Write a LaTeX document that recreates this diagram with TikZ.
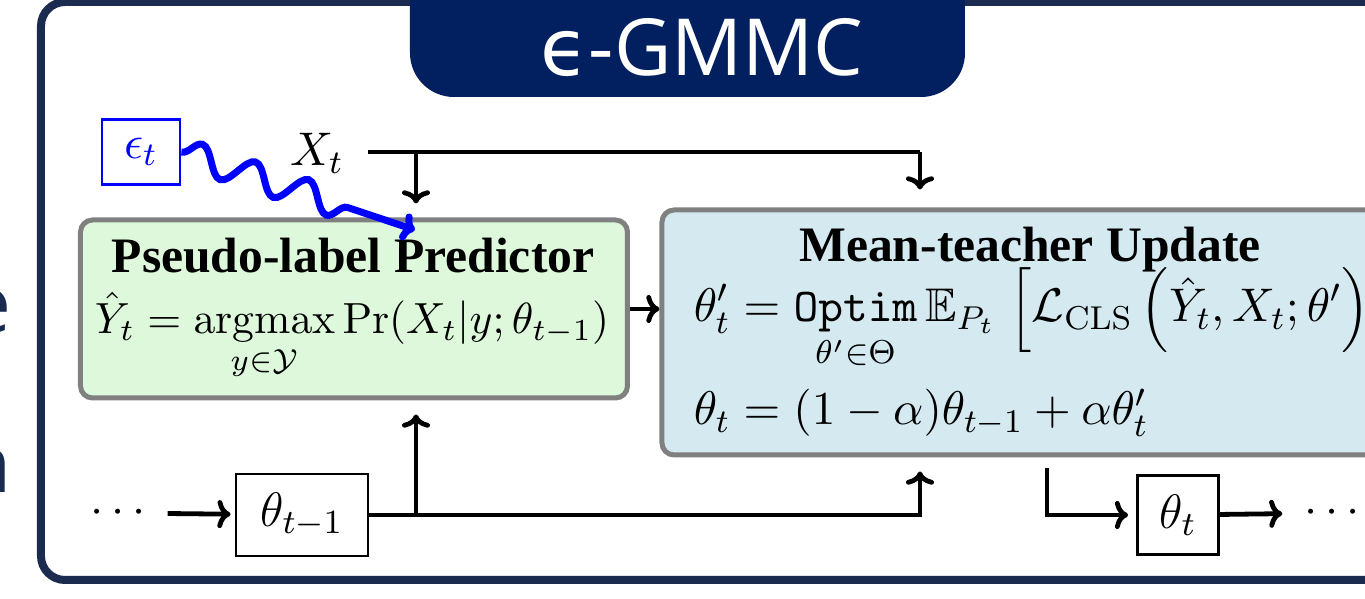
\documentclass[tikz,border=0pt]{standalone}
\usepackage{fix-cm}
\usepackage{amsmath, amssymb}
\usepackage[no-math]{fontspec}
\setmainfont{Liberation Serif}
\newfontfamily\slidefont{Open Sans}
\newfontfamily\greekfont{DejaVu Sans}
\usepackage{tikz}
\usetikzlibrary{decorations.pathmorphing, arrows.meta, positioning}
\definecolor{framenavy}{RGB}{27, 43, 80}
\definecolor{tabnavy}{RGB}{2, 32, 96}
\definecolor{predgreen}{RGB}{221, 248, 219}
\definecolor{updblue}{RGB}{213, 234, 240}
\definecolor{boxgray}{RGB}{128, 128, 128}
\newcommand{\boxsize}{\fontsize{12.4}{15}\selectfont}
\newcommand{\mathsize}{\fontsize{11.8}{15}\selectfont}
\tikzset{
  wire/.style={line width=1.2pt},
  flow/.style={-{To[length=3.3pt, width=7pt]}, line width=1.2pt},
  stagebox/.style={draw=boxgray, line width=1.25pt, rounded corners=3pt, inner sep=0pt},
  parambox/.style={draw, line width=0.7pt, inner sep=0pt, font=\fontsize{12.1}{15}\selectfont},
  boxtitle/.style={font=\boxsize\bfseries, anchor=base},
  boxmath/.style={font=\mathsize, anchor=base west, inner sep=0pt},
  slidetext/.style={font=\slidefont\fontsize{20}{24}\selectfont, text=framenavy, inner sep=0pt}
}

\begin{document}
\begin{tikzpicture}[x=0.25pt, y=-0.25pt]
  \useasboundingbox (0,0) rectangle (1365,599);
  \clip (0,0) rectangle (1365,599);

  \node[slidetext, anchor=base east] (cute) at (12,333) {e};
  \node[slidetext, anchor=base east] (cutn) at (12,493) {n};

  \draw[framenavy, line width=2pt, rounded corners=6pt] (41,2) rectangle (1450,580);
  \fill[tabnavy, rounded corners=11pt] (410,-40) rectangle (965,97);
  \node[font=\slidefont\fontsize{19.7}{24}\selectfont, text=white, anchor=base] (tabtitle) at (702,76) {{\greekfont ϵ}-GMMC};

  \node[stagebox, fill=predgreen, minimum width=136.75pt, minimum height=44.5pt] (pred) at (354,309) {};
  \node[stagebox, fill=updblue, minimum width=184.5pt, minimum height=61.25pt] (upd) at (1031,332.5) {};

  \node[boxtitle] (predtitle) at (353,273) {Pseudo-label Predictor};
  \node[font=\fontsize{10.9}{14}\selectfont, anchor=base] (predeq) at (352,334)
    {$\displaystyle \hat{Y}_t = \operatorname*{argmax}_{y\in\mathcal{Y}} \Pr(X_t|y;\theta_{t-1})$};
  \node[boxtitle] (updtitle) at (1030,262) {Mean-teacher Update};
  \node[boxmath] (updeq) at (693,322)
    {$\displaystyle \theta'_t = \mathop{\mathtt{Optim}}\limits_{\theta'\in\Theta} \mathbb{E}_{P_t}\; \Big[\mathcal{L}_{\mathrm{CLS}}\, \Big(\hat{Y}_t, X_t;\theta'\Big)\Big]$};
  \node[boxmath] (updavg) at (693,425) {$\theta_t = (1-\alpha)\theta_{t-1} + \alpha\theta'_t$};

  \node[draw=blue, line width=0.7pt, text=blue, font=\mathsize, minimum width=19.5pt, minimum height=16.25pt] (eps) at (141,152) {$\epsilon_t$};
  \node[font=\mathsize, anchor=base] (xin) at (317,166) {$X_t$};
  \coordinate (xstart) at (368,152);
  \coordinate (xa) at (416,152);
  \coordinate (xb) at (920,152);
  \coordinate (epsin) at (415,230);

  \draw[wire] (xstart) -- (xb);
  \draw[flow, shorten >=3.5pt] (xa) -- (xa |- pred.north);
  \draw[flow, shorten >=4.5pt] (xb) -- (xb |- upd.north);
  \draw[blue, line width=1.75pt, -{To[length=3.3pt, width=7pt]}, decorate, decoration={snake, amplitude=3.5pt, segment length=14pt, post length=15pt}] (eps.east) -- (epsin);

  \draw[flow] (pred.east) -- (pred.east -| upd.west);

  \node[font=\mathsize] (ldots) at (122,513) {$\cdots$};
  \node[parambox, minimum width=33pt, minimum height=20.5pt] (thprev) at (302,515) {$\theta_{t-1}$};
  \node[parambox, minimum width=20.25pt, minimum height=19.75pt] (thnow) at (1178,515) {$\theta_t$};
  \node[font=\mathsize] (rdots) at (1336,513) {$\cdots$};
  \coordinate (outtap) at (1047,468);

  \draw[flow, shorten >=1pt] (ldots) -- (thprev);
  \draw[flow, shorten >=3.5pt] (thprev.east) -| (xb |- upd.south);
  \draw[flow, shorten >=3.5pt] (thprev.east -| xa) -- (xa |- pred.south);
  \draw[flow, shorten >=2pt] (outtap) |- (thnow);
  \draw[flow, shorten >=2pt] (thnow) -- (rdots);
\end{tikzpicture}
\end{document}
